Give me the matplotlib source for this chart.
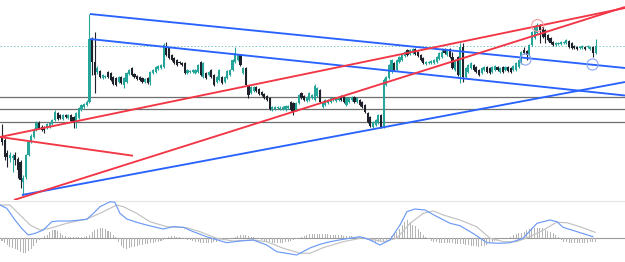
import matplotlib
matplotlib.use("Agg")
import matplotlib.pyplot as plt
import numpy as np

# ---------------- price data (candles) ----------------
opens = [63,60,47,42,42,45,41,38,18,23, 45,58,63,70,77,73,72,72,73,76, 80,87,85,81,85,82,85,83,77,82, 90,93,95,98,
         161,138,128,129,122,123,128,127,123,122, 118,123,115,118,126,132,126,124,123,122, 118,122,118,127,128,131,132,133,152,152,
         145,142,140,138,137,137,127,128,128,127, 128,138,123,127,125,
         130,125,118,120,123,118,122,125,130,138, 140,145,127,132,114,107,109,113,111,108, 106,104,102,90,91,92,91,91,90,92,
         98,97,90,97,107,104,99,100,102,100, 104,110,93,95,97,98,100,99,100,104, 103,95,98,100,103,98,100,98,95,87,
         83,73,75,77,85,73,115,122,128,137, 130,138,140,144,
         150,146,147,151,148,145,142,136,137,137, 137,138,141,143,151,145,151,143,130,143, 125,153,123,128,132,135,133,130,127,130,
         133,132,128,130,133,128,133,130,133,132, 130,130,133,137,150,149,145,155,162,167, 175,173,170,165,162,158,155,156,156,157,
         157,159,157,154,153,152,152,153,153,151, 153,147]
closes = [58,43,43,45,44,40,30,20,22,45, 58,64,70,77,72,70,70,76,77,80, 88,81,82,85,83,85,79,77,87,92, 95,96,98,161,
          138,125,132,123,125,124,123,120,116,115, 123,117,122,127,130,125,123,121,120,118, 121,117,128,130,133,134,135,155,145,142,
          140,137,135,137,135,127,130,129,130,130, 135,125,137,122,128,
          123,115,123,130,117,123,129,130,140,147, 145,135,132,115,105,113,113,109,106,105, 102,100,91,93,93,93,92,93,94,94,
          90,88,97,105,102,100,103,107,105,114, 112,98,98,100,100,102,102,102,102,100, 98,102,102,103,98,102,95,93,88,78,
          74,78,80,85,73,120,123,135,140,130, 140,143,145,148,
          145,150,151,146,144,140,137,138,138,139, 140,143,147,148,147,150,143,132,140,125, 153,123,132,135,137,130,128,125,132,133,
          128,127,133,134,130,132,128,133,129,128, 134,137,140,148,147,145,155,168,173,175, 170,163,163,160,157,155,157,157,158,158,
          160,153,152,152,151,153,154,151,154,153, 147,154]
highs = [76,62,50,48,46,48,43,40,25,46, 59,66,72,79,79,75,74,77,78,81, 90,88,86,86,86,86,86,84,88,93, 96,97,100,186,
         163,168,134,130,126,125,129,128,124,123, 124,124,123,128,131,133,127,125,124,123, 122,123,129,131,134,135,136,157,158,153,
         146,143,141,139,138,138,131,130,131,131, 136,139,138,128,129,
         131,126,124,131,124,124,130,131,141,153, 146,146,133,133,115,114,114,114,112,109, 107,105,103,94,94,94,94,94,95,95,
         99,98,98,106,108,105,104,108,106,116, 113,111,99,101,101,103,103,103,103,105, 104,103,103,104,104,103,101,99,96,88,
         84,79,81,86,86,122,124,136,141,138, 141,144,146,149,
         151,151,152,152,149,146,143,139,139,140, 141,144,148,152,152,151,152,148,141,144, 157,157,133,136,138,136,134,131,133,134,
         134,133,134,135,134,133,134,134,134,133, 135,138,141,149,153,150,156,169,174,177, 176,174,171,166,163,159,158,158,159,159,
         161,160,158,155,154,154,155,154,155,154, 154,161]
lows = [55,40,33,38,28,35,22,12,5,21, 44,57,62,69,71,69,67,71,72,75, 79,80,81,80,82,81,78,72,72,81, 89,92,94,97,
        125,107,126,122,121,122,122,119,115,114, 117,116,112,117,125,124,122,120,119,117, 117,116,115,126,127,130,131,132,144,141,
        139,136,134,136,134,126,126,127,127,126, 127,124,122,121,124,
        122,114,117,119,116,117,121,124,129,137, 139,134,126,114,102,106,108,108,105,104, 101,99,90,89,90,91,90,90,89,91,
        89,85,89,96,101,99,98,99,101,99, 103,97,92,94,96,97,99,98,99,99, 97,94,97,99,97,97,94,92,87,77,
        73,72,74,76,72,72,114,121,127,129, 129,137,139,143,
        144,145,146,145,143,139,136,135,136,136, 136,137,140,142,146,144,142,131,129,124, 117,118,122,127,131,129,127,124,126,129,
        127,126,127,129,129,127,127,129,128,127, 129,129,132,136,146,140,144,154,161,166, 157,162,157,159,156,154,154,155,155,156,
        156,152,151,151,150,151,151,150,152,150, 143,146]

# horizontal levels, last price
levels = [103.5, 90.7, 77.7]
last_price = 154

# trend lines: ((x0, y0), (x1, y1)) in candle index / price
blue_lines = [((33.2, 186), (235.1, 132)),
              ((33.2, 161), (235.1, 104.5)),
              ((7.5, 5), (235.1, 118))]
red_lines = [((-0.75, 63), (49.4, 44.3)),
             ((-0.75, 63), (235.1, 192)),
             ((4.5, 0), (235.1, 193))]
red_circles = [(201.9, 175)]
blue_circles = [(197.4, 140.7), (222.6, 135.7)]

# ---------------- MACD panel ----------------
macd_x = [-0.75,1.8,4.9,7.4,9.9,12.5,15.6,18.8,21.2,25.7,32.0,34.5,37.0,40.8,42.6,44.5,47.1,52.1,57.1,60.9,
          64.6,68.4,72.2,77.2,84.8,89.8,94.8,99.9,103.7,111.2,116.2,120.0,123.8,128.7,135.1,138.9,142.6,146.4,150.2,152.8,
          155.8,159.6,164.2,169.1,172.8,177.7,183.0,188.0,191.7,196.6,201.9,206.8,209.4,211.7,217.0,223.0]
macd_v = [32.7,29.4,17.7,9.4,2.7,4.4,7.7,16.0,16.7,16.7,18.4,24.4,31.0,36.0,35.4,24.4,18.7,14.4,11.0,8.7,
          11.0,10.4,6.0,1.0,-5.0,-3.3,-2.3,-7.3,-14.0,-17.3,-10.3,-6.6,-4.0,-1.6,1.0,-2.3,-7.3,-2.3,12.7,26.0,
          28.7,27.7,21.0,14.4,12.0,4.4,-5.0,-5.6,-5.0,-0.6,14.4,17.7,16.0,10.4,6.0,1.0]
sig_x = [-0.75,3.0,6.8,10.6,14.3,18.1,24.4,32.0,37.0,43.3,45.8,50.8,55.8,62.2,69.7,74.7,81.0,87.3,94.8,99.9,
         106.2,112.5,116.2,121.2,128.8,136.3,143.9,148.9,154.0,159.0,162.8,166.5,172.8,179.1,184.2,189.2,194.2,199.2,204.3,209.3,
         213.1,218.1,223.8]
sig_v = [32.7,32.7,22.7,12.7,7.7,9.4,14.4,18.7,24.4,32.7,31.0,24.4,16.0,11.0,10.0,6.0,-0.6,-3.3,-2.3,-4.0,
         -10.6,-15.6,-15.6,-10.0,-4.0,0.0,-4.0,-0.6,14.4,24.4,26.7,22.7,17.7,11.0,-0.6,-4.0,-4.0,1.0,7.7,15.4,
         15.0,11.0,5.4]
hist = [-3,-5,-7,-9,-10,-11,-12,-14,-15,-15,
        -13,-11,-8,-5,-2,-0.5,1.5,3,5.5,7.5,
        8,7,5,3,2,1.2,0.8,0.7,0.6,0.6,
        0.7,0.8,1.5,3,6,8,9,10,9.5,8.5,
        7,5.5,3,0.5,-4,-8,-10.5,-11,-10,-9.5,
        -9,-8.5,-7.5,-7,-6.5,-6,-5.5,-5,-4.5,-4,
        -3.5,-2.5,-1,1,1.3,1.3,1.2,0.8,-0.5,-1.3,
        -2,-2.5,-3,-4,-4.5,-5,-5.7,-5.7,-5.7,-5.2,
        -4.5,-4,-2.5,-1.5,-1.3,-1.2,-1,-0.5,0.8,1.8,
        2.7,2.7,2.5,2,1,0.3,-0.5,-1,-2,-3,
        -4,-4.5,-5,-5.5,-5.7,-5.5,-5,-4.5,-4,-3,
        -2.3,-1.5,-0.7,0.5,2,3,3.3,3.5,3.7,3.8,
        3.8,3.7,3.5,3.3,3.2,3,2.8,2.5,2.3,2,
        1.8,1.5,1.3,1,0.8,0.5,0,-1.5,-2.3,-3,
        -3.5,-4,-4,-3.5,-3,-2,-0.5,1.5,3.3,6,
        9,13,16,17.7,16,13,11.5,9,6,3,
        0.5,-1.5,-3,-4,-4.5,-5,-5.5,-5.7,-5.7,-5.7,
        -5.7,-6,-6.3,-6.5,-6.7,-7,-7.5,-7.8,-8,-8.5,
        -9,-8.5,-8,-7.3,-5,-4,-3.5,-2,-0.7,-0.7,
        -0.5,-0.3,0.5,2.7,3.5,4.3,5,6,7.7,8.5,
        9.3,10,10,9.7,9.3,8,7,6,4.5,3,
        1,-2,-4,-4.5,-5,-5.5,-5.7,-5.7,-5.5,-5.3,
        -5,-5,-4.5,-4.3,-4]

# ---------------- styles ----------------
UP = "#26a69a"
DOWN = "#1e222d"
BLUE = "#2962ff"
RED = "#f23645"

o = np.array(opens, float); c = np.array(closes, float)
h = np.array(highs, float); l = np.array(lows, float)
idx = np.arange(len(o))
up = c >= o
cols = np.where(up, UP, DOWN)

fig = plt.figure(figsize=(6.25, 2.62), dpi=100)
ax = fig.add_axes([0, 62 / 262, 1, 200 / 262])
axm = fig.add_axes([0, 0, 1, 62 / 262])
XL = (-0.755, 235.1)
for a in (ax, axm):
    a.set_xlim(*XL)
    a.set_axis_off()
ax.set_ylim(0, 200)
axm.set_ylim(-24.3, 37.7)

# levels
for lv in levels:
    ax.axhline(lv, color="#6e6e6e", lw=0.9, zorder=1)
ax.axhline(last_price, color=UP, lw=0.7, ls=(0, (1.5, 2)), alpha=0.6, zorder=1)

# candles
ax.vlines(idx, l, h, colors=cols, lw=0.8, zorder=2)
body_b = np.minimum(o, c)
body_h = np.maximum(np.abs(c - o), 0.8)
ax.bar(idx, body_h, bottom=body_b, width=0.8, color=cols, linewidth=0, zorder=2)

# trend lines
for (p0, p1) in blue_lines:
    ax.plot([p0[0], p1[0]], [p0[1], p1[1]], color=BLUE, lw=1.35, zorder=3, solid_capstyle="butt")
for (p0, p1) in red_lines:
    ax.plot([p0[0], p1[0]], [p0[1], p1[1]], color=RED, lw=1.35, zorder=3, solid_capstyle="butt")
for (cx, cy) in red_circles:
    ax.plot([cx], [cy], marker="o", ms=8.5, mfc="none", mec="#f59aa3", mew=0.8, zorder=4)
for (cx, cy) in blue_circles:
    ax.plot([cx], [cy], marker="o", ms=8.0, mfc="none", mec="#8aa6f7", mew=0.8, zorder=4)

# MACD panel
axm.axhline(37.2, color="#e6e6e6", lw=0.8)
axm.axhline(0, color="#9a9a9a", lw=0.8, zorder=1)
axm.bar(idx, hist, width=0.38, color="#b4b4b4", linewidth=0, zorder=2)
axm.plot(sig_x, sig_v, color="#c2c2c2", lw=0.85, zorder=3)
axm.plot(macd_x, macd_v, color="#6d9af6", lw=0.85, zorder=4)

fig.savefig("out.png", dpi=100)
